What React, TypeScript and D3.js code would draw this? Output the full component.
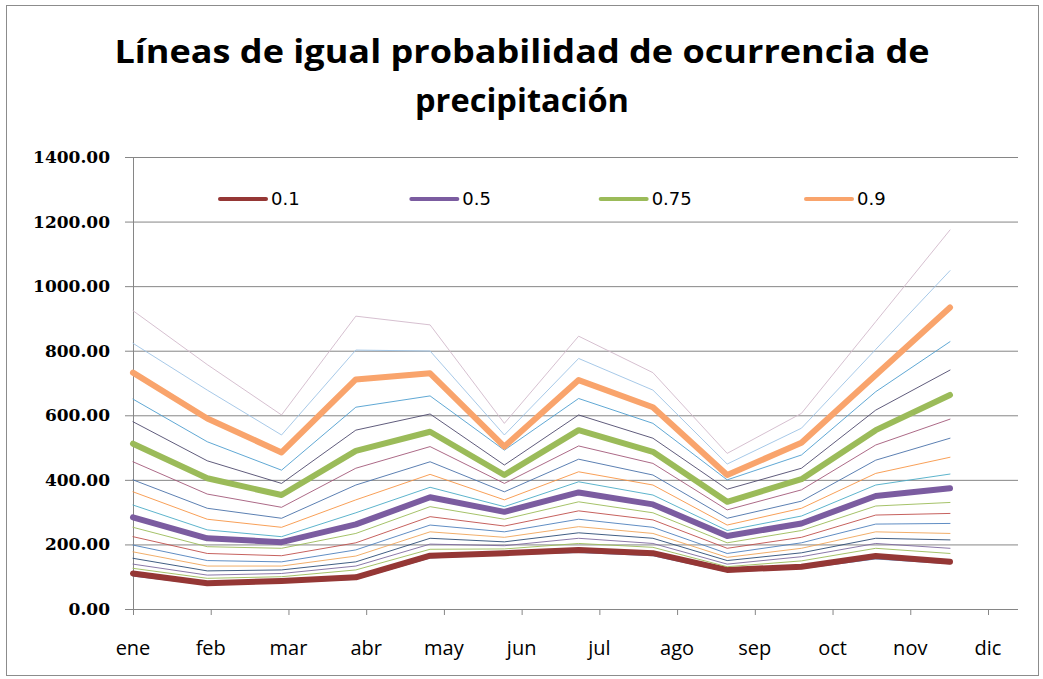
import React from "react";
import * as d3 from "d3";

const months = ["ene", "feb", "mar", "abr", "may", "jun", "jul", "ago", "sep", "oct", "nov", "dic"];
const yTicks = [0, 200, 400, 600, 800, 1000, 1200, 1400];

const p05 = [102, 75, 82, 92, 158, 168, 175, 165, 115, 125, 155, 140];
const p10 = [110, 80, 87, 98, 165, 173, 183, 173, 121, 131, 164, 146];
const p15 = [126, 95, 100, 121, 185, 186, 203, 191, 131, 149, 188, 172];
const p20 = [139, 105, 110, 133, 201, 196, 219, 203, 139, 162, 203, 188];
const p25 = [157, 118, 121, 146, 219, 208, 236, 219, 150, 174, 219, 214];
const p30 = [177, 133, 133, 164, 239, 222, 255, 234, 160, 188, 239, 234];
const p35 = [198, 150, 146, 183, 260, 239, 278, 253, 172, 205, 263, 265];
const p40 = [224, 172, 165, 205, 286, 257, 304, 276, 188, 222, 291, 296];
const p45 = [253, 193, 188, 234, 317, 278, 332, 298, 205, 243, 319, 330];
const p50 = [284, 219, 207, 262, 346, 301, 361, 324, 226, 265, 350, 374];
const p55 = [322, 245, 224, 298, 377, 317, 394, 353, 243, 288, 384, 418];
const p60 = [363, 278, 253, 338, 417, 338, 425, 384, 260, 312, 420, 470];
const p65 = [400, 312, 281, 384, 456, 363, 464, 415, 281, 334, 461, 529];
const p70 = [456, 356, 315, 436, 503, 389, 505, 451, 307, 369, 508, 588];
const p75 = [512, 405, 353, 490, 549, 415, 554, 487, 332, 402, 554, 663];
const p80 = [580, 459, 389, 554, 604, 446, 601, 529, 371, 436, 616, 740];
const p85 = [650, 518, 430, 625, 660, 492, 652, 575, 400, 477, 673, 828];
const p90 = [732, 590, 485, 711, 730, 503, 709, 625, 415, 515, 725, 934];
const p95 = [823, 678, 539, 802, 799, 539, 776, 678, 449, 560, 804, 1048];
const p98 = [924, 757, 601, 907, 880, 575, 845, 732, 482, 606, 890, 1174];

const series = [
  { name: "0.05", values: p05, color: "#4F81BD", thick: false },
  { name: "0.1", values: p10, color: "#953735", thick: true },
  { name: "0.15", values: p15, color: "#9BBB59", thick: false },
  { name: "0.2", values: p20, color: "#7E6A9E", thick: false },
  { name: "0.25", values: p25, color: "#2C4D75", thick: false },
  { name: "0.3", values: p30, color: "#EFA55A", thick: false },
  { name: "0.35", values: p35, color: "#4F81BD", thick: false },
  { name: "0.4", values: p40, color: "#C0504D", thick: false },
  { name: "0.45", values: p45, color: "#9BBB59", thick: false },
  { name: "0.5", values: p50, color: "#7B5CA0", thick: true },
  { name: "0.55", values: p55, color: "#4BACC6", thick: false },
  { name: "0.6", values: p60, color: "#F79646", thick: false },
  { name: "0.65", values: p65, color: "#4A72AA", thick: false },
  { name: "0.7", values: p70, color: "#A35A7A", thick: false },
  { name: "0.75", values: p75, color: "#9BBB59", thick: true },
  { name: "0.8", values: p80, color: "#4F4A6E", thick: false },
  { name: "0.85", values: p85, color: "#4F9FCF", thick: false },
  { name: "0.9", values: p90, color: "#F9A46C", thick: true },
  { name: "0.95", values: p95, color: "#9DC3E6", thick: false },
  { name: "0.98", values: p98, color: "#D2B9CB", thick: false },
];

const legendItems = ["0.1", "0.5", "0.75", "0.9"];

const W = 1043;
const H = 679;
const left = 133;
const right = 1018;
const top = 157;
const bottom = 609;

export default function App() {
  const y = d3.scaleLinear().domain([0, 1400]).range([bottom, top]);
  const xAxis = d3.scalePoint<string>().domain(months).range([left, 988]);
  const xLine = d3.scalePoint<string>().domain(months).range([left, 950]);
  const line = d3
    .line<number>()
    .x((_, i) => xLine(months[i]) as number)
    .y((d) => y(d));
  const legendX = d3.scalePoint<string>().domain(legendItems).range([220, 806]);
  const legendOffsets: Record<string, number> = { "0.1": 0, "0.5": -4, "0.75": -10, "0.9": 0 };

  return (
    <svg
      width={W}
      height={H}
      style={{ position: "absolute", left: 0, top: 0, background: "#fff" }}
    >
      <rect x={6.5} y={5.5} width={1032} height={670} fill="#fff" stroke="#8c8c8c" strokeWidth={1} />
      <text
        x={522}
        y={63}
        textAnchor="middle"
        fontFamily="'Open Sans', sans-serif"
        fontWeight="bold"
        fontSize={32}
        textLength={815}
        lengthAdjust="spacingAndGlyphs"
        fill="#000"
      >
        Líneas de igual probabilidad de ocurrencia de
      </text>
      <text
        x={522}
        y={112}
        textAnchor="middle"
        fontFamily="'Open Sans', sans-serif"
        fontWeight="bold"
        fontSize={32}
        textLength={214}
        lengthAdjust="spacingAndGlyphs"
        fill="#000"
      >
        precipitación
      </text>

      {yTicks.map((t) => (
        <g key={t}>
          <line x1={125} x2={right} y1={y(t) + 0.5} y2={y(t) + 0.5} stroke="#868686" strokeWidth={1} />
          <text
            x={110}
            y={y(t) + 6}
            textAnchor="end"
            fontFamily="'DejaVu Serif', serif"
            fontWeight="bold"
            fontSize={17}
            fill="#000"
          >
            {t.toFixed(2)}
          </text>
        </g>
      ))}
      <line x1={left + 0.5} x2={left + 0.5} y1={top} y2={bottom} stroke="#868686" strokeWidth={1} />
      {months.map((m) => (
        <g key={m}>
          <line
            x1={(xAxis(m) as number) + 0.5}
            x2={(xAxis(m) as number) + 0.5}
            y1={bottom}
            y2={bottom + 6}
            stroke="#868686"
            strokeWidth={1}
          />
          <text
            x={xAxis(m) as number}
            y={655}
            textAnchor="middle"
            fontFamily="'Open Sans', sans-serif"
            fontSize={20}
            fill="#000"
          >
            {m}
          </text>
        </g>
      ))}

      {series.map((s) => (
        <path
          key={s.name}
          d={line(s.values) || ""}
          fill="none"
          stroke={s.color}
          strokeWidth={s.thick ? 6 : 1}
          strokeLinejoin="round"
          strokeLinecap="round"
          opacity={s.thick ? 1 : 0.9}
        />
      ))}

      {legendItems.map((name) => {
        const s = series.find((d) => d.name === name)!;
        const x0 = (legendX(name) as number) + legendOffsets[name];
        return (
          <g key={name}>
            <line x1={x0} x2={x0 + 46} y1={199} y2={199} stroke={s.color} strokeWidth={4} strokeLinecap="round" />
            <text
              x={x0 + 51}
              y={205}
              fontFamily="'DejaVu Sans', sans-serif"
              fontSize={18}
              fill="#000"
            >
              {name}
            </text>
          </g>
        );
      })}
    </svg>
  );
}
